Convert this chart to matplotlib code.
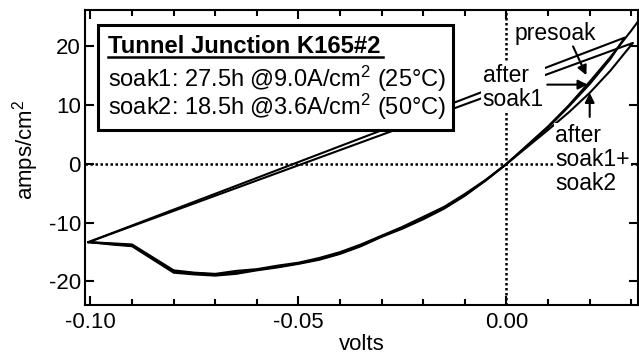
import matplotlib
matplotlib.use("Agg")
import matplotlib.pyplot as plt
from matplotlib.patches import Rectangle
from matplotlib.ticker import MultipleLocator

plt.rcParams['font.family'] = ['Liberation Sans', 'DejaVu Sans']
plt.rcParams['mathtext.fontset'] = 'custom'
plt.rcParams['mathtext.rm'] = 'Liberation Sans'
plt.rcParams['mathtext.it'] = 'Liberation Sans:italic'
plt.rcParams['mathtext.bf'] = 'Liberation Sans:bold'

# I-V sweeps (volts, amps/cm^2)
presoak_v = [-0.1005, -0.095, -0.09, -0.08, -0.075, -0.07, -0.065, -0.06, -0.055, -0.05,
             -0.045, -0.04, -0.035, -0.03, -0.025, -0.02, -0.015, -0.01, -0.005, 0.0,
             0.005, 0.01, 0.015, 0.02, 0.025, 0.03, 0.035]
presoak_j = [-13.3, -13.6, -13.9, -18.3, -18.6, -18.8, -18.5, -18.0, -17.5, -16.9,
             -16.2, -15.2, -13.9, -12.3, -10.9, -9.3, -7.5, -5.3, -2.8, 0.0,
             3.2, 6.4, 10.0, 14.0, 18.2, 22.7, 27.5]

soak1_v = [-0.1005, -0.095, -0.09, -0.08, -0.075, -0.07, -0.065, -0.06, -0.055, -0.05,
           -0.045, -0.04, -0.035, -0.03, -0.025, -0.02, -0.015, -0.01, -0.005, 0.0,
           0.005, 0.01, 0.015, 0.02, 0.025, 0.0284]
soak1_j = [-13.3, -13.5, -13.7, -18.1, -18.5, -18.7, -18.2, -17.9, -17.3, -16.8,
           -16.0, -15.0, -13.7, -12.2, -10.7, -9.0, -7.3, -5.1, -2.7, 0.0,
           3.1, 6.2, 9.8, 13.6, 17.9, 21.5]

soak2_v = [-0.1005, -0.095, -0.09, -0.08, -0.075, -0.07, -0.065, -0.06, -0.055, -0.05,
           -0.045, -0.04, -0.035, -0.03, -0.025, -0.02, -0.015, -0.01, -0.005, 0.0,
           0.005, 0.01, 0.015, 0.02, 0.025, 0.0304]
soak2_j = [-13.3, -13.7, -14.0, -18.5, -18.8, -19.0, -18.7, -18.1, -17.6, -17.0,
           -16.3, -15.3, -14.0, -12.4, -11.0, -9.4, -7.6, -5.4, -2.8, 0.0,
           2.9, 5.8, 8.8, 12.1, 15.9, 20.6]

fig = plt.figure(figsize=(6.39, 3.58), dpi=100)
ax = fig.add_axes([85 / 639, 1 - 305 / 358, 553 / 639, 295 / 358])

# zero lines
ax.axhline(0, color='k', lw=1.8, ls=(0, (1, 1)), zorder=1)
ax.axvline(0, color='k', lw=1.8, ls=(0, (1, 1)), zorder=1)

# curves (soak1 and soak2 sweeps close back to the start point)
ax.plot(presoak_v, presoak_j, color='k', lw=1.5, zorder=2)
ax.plot(soak1_v + [soak1_v[0]], soak1_j + [soak1_j[0]], color='k', lw=1.5, zorder=2)
ax.plot(soak2_v + [soak2_v[0]], soak2_j + [soak2_j[0]], color='k', lw=1.5, zorder=2)

ax.set_xlim(-0.10132, 0.03161)
ax.set_ylim(-24.0, 26.2)
ax.xaxis.set_major_locator(MultipleLocator(0.05))
ax.xaxis.set_minor_locator(MultipleLocator(0.01))
ax.yaxis.set_major_locator(MultipleLocator(10))
ax.set_xticks([-0.10, -0.05, 0.0])
ax.set_xticklabels(['-0.10', '-0.05', '0.00'])
ax.set_yticks([-20, -10, 0, 10, 20])
ax.set_yticklabels(['-20', '-10', '0', '10', '20'])
ax.tick_params(which='both', direction='in', top=True, right=True, width=1.5, labelsize=16)
ax.tick_params(which='major', length=6.5)
ax.tick_params(which='minor', length=4.5)
ax.tick_params(axis='x', pad=5)
ax.tick_params(axis='y', pad=3)
for s in ax.spines.values():
    s.set_linewidth(1.5)

fig.text(26 / 639, 1 - 150 / 358, r'amps/cm$\mathregular{^2}$', rotation=90,
         ha='center', va='center', fontsize=16)
fig.text(362 / 639, 1 - 345 / 358, 'volts', ha='center', va='center', fontsize=16)

# info box
ax.add_patch(Rectangle((0.0235, 0.593), 0.642, 0.356, transform=ax.transAxes,
                       facecolor='white', edgecolor='k', lw=2.2, zorder=5))
ax.text(0.0416, 0.8746, 'Tunnel Junction K165#2', transform=ax.transAxes,
        fontsize=17.2, fontweight='bold', va='center', ha='left', zorder=6)
ax.plot([0.0416, 0.539], [0.840, 0.840], transform=ax.transAxes, color='k', lw=1.8,
        zorder=6, clip_on=False)
ax.text(0.0416, 0.766, r'soak1: 27.5h @9.0A/cm$\mathregular{^2}$ (25°C)', transform=ax.transAxes,
        fontsize=17, va='center', ha='left', zorder=6)
ax.text(0.0416, 0.672, r'soak2: 18.5h @3.6A/cm$\mathregular{^2}$ (50°C)', transform=ax.transAxes,
        fontsize=17, va='center', ha='left', zorder=6)

# labels and arrows
box = dict(facecolor='white', edgecolor='none', pad=1)
ax.text(0.0020, 22.2, 'presoak', fontsize=16.5, ha='left', va='center', bbox=box, zorder=4)
ax.text(-0.0057, 13.0, 'after\nsoak1', fontsize=16.5, ha='left', va='center',
        linespacing=1.05, bbox=box, zorder=4)
ax.text(0.0117, 0.7, 'after\nsoak1+\nsoak2', fontsize=16.5, ha='left', va='center',
        linespacing=1.05, bbox=box, zorder=4)

arr = dict(arrowstyle='-|>', color='k', lw=1.5, mutation_scale=14, shrinkA=0, shrinkB=0)
ax.annotate('', xy=(0.0192, 15.1), xytext=(0.0160, 20.0), arrowprops=arr, zorder=4)
ax.annotate('', xy=(0.0195, 13.5), xytext=(0.0098, 13.5), arrowprops=arr, zorder=4)
ax.annotate('', xy=(0.0200, 12.1), xytext=(0.0200, 8.0), arrowprops=arr, zorder=4)

fig.savefig('out.png', dpi=100)
